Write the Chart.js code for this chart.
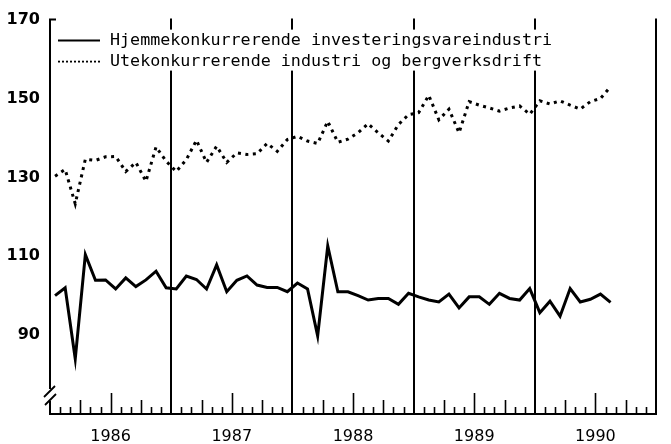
<!DOCTYPE html>
<html><head><meta charset="utf-8">
<script src="https://cdn.jsdelivr.net/npm/chart.js@4/dist/chart.umd.min.js"></script>
<style>html,body{margin:0;padding:0;background:#fff}canvas{display:block}</style>
</head><body>
<canvas id="c" width="671" height="444"></canvas>
<script>
// ---- data (monthly, Jan 1986 – Aug 1990) ----
const years = ['1986', '1987', '1988', '1989', '1990'];
const seriesLabels = ['Hjemmekonkurrerende investeringsvareindustri', 'Utekonkurrerende industri og bergverksdrift'];
const hjemme = [100, 102, 84, 110.4, 103.9, 104, 101.7, 104.5, 102.3, 104, 106.2, 102,
  101.7, 105, 104.1, 101.7, 107.8, 101, 103.9, 105, 102.7, 102.1, 102.1, 101,
  103.2, 101.7, 89.8, 112.6, 101, 101, 100, 98.9, 99.3, 99.3, 97.8, 100.6,
  99.7, 98.9, 98.4, 100.4, 96.9, 99.7, 99.7, 97.8, 100.6, 99.3, 98.9, 101.8,
  95.7, 98.6, 94.8, 101.8, 98.4, 99.1, 100.4, 98.3];
const ute = [130.3, 132, 123.3, 134.6, 134.3, 135.2, 135.3, 131.5, 133.8, 129, 137.7, 134.1,
  131.5, 134.5, 139.4, 133.8, 137.9, 133.8, 136.2, 135.8, 136, 138.6, 136.6, 139.6,
  140.4, 139.2, 138.6, 144.2, 138.9, 139.7, 141.3, 143.6, 141.3, 139.2, 143.4, 145.9,
  146.4, 150.8, 144.6, 147.3, 141.3, 149.2, 148.3, 147.6, 146.8, 147.6, 148.1, 146,
  149.4, 148.6, 149.4, 148.3, 147.3, 149.2, 150, 153];
const yTicks = [90, 110, 130, 150, 170];
const yMin = 70, yMax = 170;

const toPoints = arr => arr.map((v, i) => ({ x: i + 0.5, y: v }));

const framePlugin = {
  id: 'frame',
  beforeDatasetsDraw(chart) {
    const { ctx, chartArea: a, scales: { x } } = chart;
    ctx.save();
    ctx.strokeStyle = '#000';
    ctx.lineCap = 'butt';
    ctx.lineWidth = 2;
    for (let m = 12; m <= 60; m += 12) {
      const px = Math.round(x.getPixelForValue(m));
      ctx.beginPath(); ctx.moveTo(px, a.top - 1); ctx.lineTo(px, a.bottom); ctx.stroke();
    }
    ctx.beginPath();
    ctx.moveTo(a.left + 6, a.top); ctx.lineTo(a.left, a.top); ctx.lineTo(a.left, a.bottom - 25);
    ctx.moveTo(a.left, a.bottom - 13); ctx.lineTo(a.left, a.bottom + 1);
    ctx.stroke();
    ctx.lineWidth = 1.8;
    ctx.beginPath();
    ctx.moveTo(a.left - 6, a.bottom - 17); ctx.lineTo(a.left + 5, a.bottom - 28);
    ctx.moveTo(a.left - 5, a.bottom - 9); ctx.lineTo(a.left + 6, a.bottom - 20);
    ctx.stroke();
    ctx.lineWidth = 2;
    ctx.beginPath(); ctx.moveTo(a.left - 1, a.bottom); ctx.lineTo(a.right + 1, a.bottom); ctx.stroke();
    ctx.lineWidth = 1.6;
    for (let m = 1; m < 60; m++) {
      if (m % 12 === 0) continue;
      const px = Math.round(x.getPixelForValue(m)) + 0.5;
      const h = (m % 12 === 6) ? 21 : (m % 3 === 0 ? 14 : 7);
      ctx.beginPath(); ctx.moveTo(px, a.bottom); ctx.lineTo(px, a.bottom - h); ctx.stroke();
    }
    ctx.restore();
  },
  afterDatasetsDraw(chart) {
    const { ctx, chartArea: a } = chart;
    const ds = chart.data.datasets;
    ctx.save();
    ctx.fillStyle = '#fff';
    ctx.fillRect(a.left + 3, a.top + 10, 498, 41);
    const rows = [a.top + 21, a.top + 42];
    ds.forEach((d, i) => {
      const y = rows[i];
      ctx.strokeStyle = '#000';
      ctx.lineWidth = i === 0 ? 2 : 1.8;
      ctx.setLineDash(i === 0 ? [] : [2, 2]);
      ctx.beginPath(); ctx.moveTo(a.left + 8, y); ctx.lineTo(a.left + 50, y); ctx.stroke();
      ctx.setLineDash([]);
      ctx.fillStyle = '#000';
      ctx.font = '16.7px "DejaVu Sans Mono"';
      ctx.textBaseline = 'middle';
      ctx.textAlign = 'left';
      ctx.fillText(d.label, a.left + 60, y);
    });
    ctx.restore();
  }
};

Chart.defaults.font.family = '"DejaVu Sans"';
Chart.defaults.color = '#000';

new Chart(document.getElementById('c'), {
  type: 'line',
  data: {
    datasets: [
      { label: seriesLabels[0], data: toPoints(hjemme), borderColor: '#000', borderWidth: 3,
        pointRadius: 0, tension: 0, fill: false },
      { label: seriesLabels[1], data: toPoints(ute), borderColor: '#000', borderWidth: 3,
        borderDash: [3, 4.5], pointRadius: 0, tension: 0, fill: false }
    ]
  },
  options: {
    responsive: false,
    animation: false,
    devicePixelRatio: 1,
    layout: { padding: { left: 0, right: 15, top: 19, bottom: 0 } },
    plugins: { legend: { display: false }, tooltip: { enabled: false } },
    scales: {
      x: {
        type: 'linear', min: 0, max: 60,
        grid: { display: false, drawTicks: false }, border: { display: false },
        afterBuildTicks: s => { s.ticks = years.map((y, i) => ({ value: 6 + 12 * i })); },
        afterFit: s => { s.height = 30; },
        ticks: { callback: (v, i) => years[i], padding: 13, maxRotation: 0, autoSkip: false,
          font: { size: 16 } }
      },
      y: {
        min: yMin, max: yMax,
        grid: { display: false, drawTicks: false }, border: { display: false },
        afterBuildTicks: s => { s.ticks = yTicks.map(v => ({ value: v })); },
        afterFit: s => { s.width = 50; },
        ticks: { padding: 10, font: { size: 16, weight: 'bold' } }
      }
    }
  },
  plugins: [framePlugin]
});
</script>
</body></html>
